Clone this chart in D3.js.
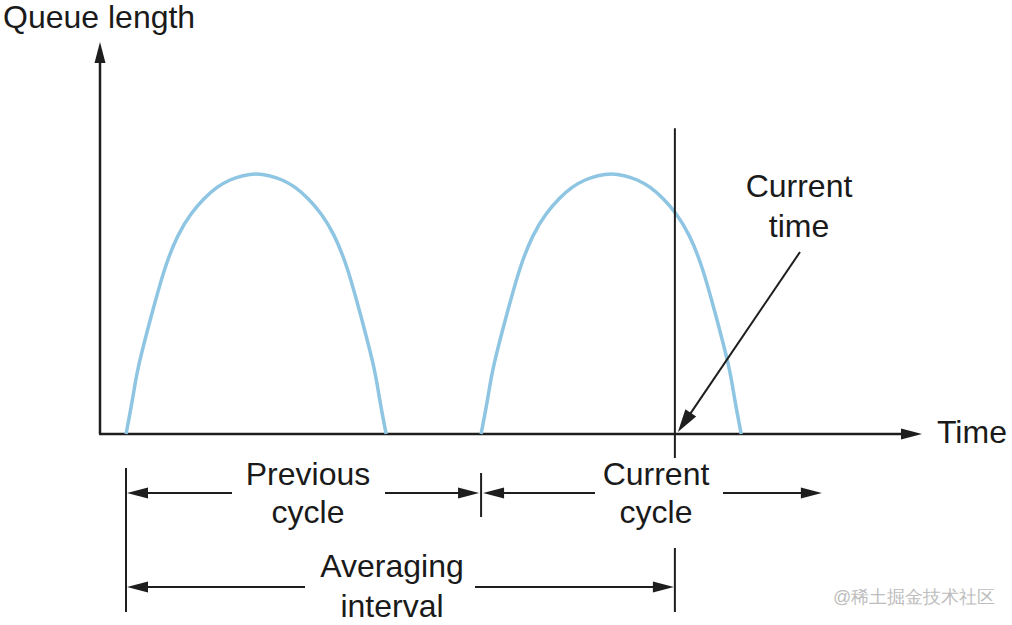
<!DOCTYPE html>
<html>
<head>
<meta charset="utf-8">
<script src="https://cdn.jsdelivr.net/npm/d3@7/dist/d3.min.js"></script>
<style>
  html, body { margin: 0; padding: 0; background: #fff; }
  svg { display: block; }
  text { font-family: "Liberation Sans", Arial, Helvetica, sans-serif; fill: #1a1a1a; }
</style>
</head>
<body>
<svg id="chart" width="1012" height="625"></svg>
<script>
// ---- data (time in arbitrary units, queue length in % of axis height) ----
const prevCycleTime  = [2, 2.5, 3, 4, 5, 6, 7, 8, 9, 10, 11, 12, 13, 14, 15, 16, 17, 18, 19, 20, 21, 21.5, 22];
const prevCycleQueue = [0, 8.9, 17.8, 30.8, 42.3, 50.6, 56.1, 60.0, 62.9, 64.8, 65.9, 66.3, 65.9, 64.8, 62.9, 60.0, 56.1, 50.6, 42.3, 30.8, 17.8, 8.9, 0];
const currCycleTime  = [29.3, 29.8, 30.3, 31.3, 32.3, 33.3, 34.3, 35.3, 36.3, 37.3, 38.3, 39.3, 40.3, 41.3, 42.3, 43.3, 44.3, 45.3, 46.3, 47.3, 48.3, 48.8, 49.3];
const currCycleQueue = [0, 8.9, 17.8, 30.8, 42.3, 50.6, 56.1, 60.0, 62.9, 64.8, 65.9, 66.3, 65.9, 64.8, 62.9, 60.0, 56.1, 50.6, 42.3, 30.8, 17.8, 8.9, 0];
const currentTime = 44.2;
const prevCycleStart = 2;
const currCycleStart = 29.3;
const currCycleArrowEnd = 55.5;
const axisLabels = { y: "Queue length", x: "Time" };
const currentTimeLabel = ["Current", "time"];
const prevCycleLabel = ["Previous", "cycle"];
const currCycleLabel = ["Current", "cycle"];
const avgLabel = ["Averaging", "interval"];
const watermark = "@稀土掘金技术社区";

// ---- scales ----
const x = d3.scaleLinear().domain([0, 63.2]).range([100, 922]);
const y = d3.scaleLinear().domain([0, 100]).range([434, 42]);

const svg = d3.select("#chart");
const ink = "#1e1e1e";

function arrow(x1, y1, x2, y2, len = 21, hw = 5.5, width = 2) {
  const a = Math.atan2(y2 - y1, x2 - x1);
  const bx = x2 - len * Math.cos(a), by = y2 - len * Math.sin(a);
  svg.append("line")
    .attr("x1", x1).attr("y1", y1).attr("x2", bx + 2 * Math.cos(a)).attr("y2", by + 2 * Math.sin(a))
    .attr("stroke", ink).attr("stroke-width", width);
  const px = -Math.sin(a) * hw, py = Math.cos(a) * hw;
  svg.append("polygon")
    .attr("points", [[x2, y2], [bx + px, by + py], [bx - px, by - py]].map(p => p.join(",")).join(" "))
    .attr("fill", ink);
}
function vline(xv, y1, y2) {
  svg.append("line").attr("x1", xv).attr("x2", xv).attr("y1", y1).attr("y2", y2)
    .attr("stroke", ink).attr("stroke-width", 2);
}
function label(lines, cx, baseline, anchor = "middle", gap = 40) {
  lines.forEach((t, i) => {
    svg.append("text").attr("x", cx).attr("y", baseline + i * gap)
      .attr("text-anchor", anchor).attr("font-size", 32).text(t);
  });
}

// ---- axes ----
arrow(x(0), y(0), x(0), y(100), 21, 5.5, 2.5);
arrow(x(0) - 1, y(0), x(63.2), y(0), 21, 5.5, 2.5);
label([axisLabels.y], 3, 28, "start");
label([axisLabels.x], x(63.2) + 15, 443, "start");

// ---- curves ----
const line = d3.line().x(d => x(d[0])).y(d => y(d[1])).curve(d3.curveNatural);
[[prevCycleTime, prevCycleQueue], [currCycleTime, currCycleQueue]].forEach(([ts, qs]) => {
  svg.append("path")
    .datum(ts.map((t, i) => [t, qs[i]]))
    .attr("d", line)
    .attr("fill", "none")
    .attr("stroke", "#8ec5e2")
    .attr("stroke-width", 3.5);
});

// ---- current time marker ----
vline(x(currentTime), y(78), y(0) + 24);
label(currentTimeLabel, 799, 197);
arrow(800, 252, x(currentTime) + 3, y(0) - 2, 23, 6.5, 2);

// ---- cycle brackets ----
const r1 = 493, r2 = 587;
vline(x(prevCycleStart), 468, 612);
vline(x(currCycleStart), 473, 517);
vline(x(currentTime), 548, 612);

arrow(232, r1, x(prevCycleStart) + 1, r1);
arrow(385, r1, x(currCycleStart) - 2, r1);
arrow(595, r1, x(currCycleStart) + 2, r1);
arrow(723, r1, x(currCycleArrowEnd), r1);
label(prevCycleLabel, 308, 485, "middle", 38);
label(currCycleLabel, 656, 485, "middle", 38);

arrow(305, r2, x(prevCycleStart) + 1, r2);
arrow(475, r2, x(currentTime) - 1, r2);
label(avgLabel, 392, 577);

// ---- watermark ----
svg.append("text").attr("x", 833).attr("y", 603)
  .attr("font-family", "'Noto Sans CJK SC', sans-serif")
  .attr("font-size", 18).style("fill", "#bdbdbd").text(watermark);
</script>
</body>
</html>
